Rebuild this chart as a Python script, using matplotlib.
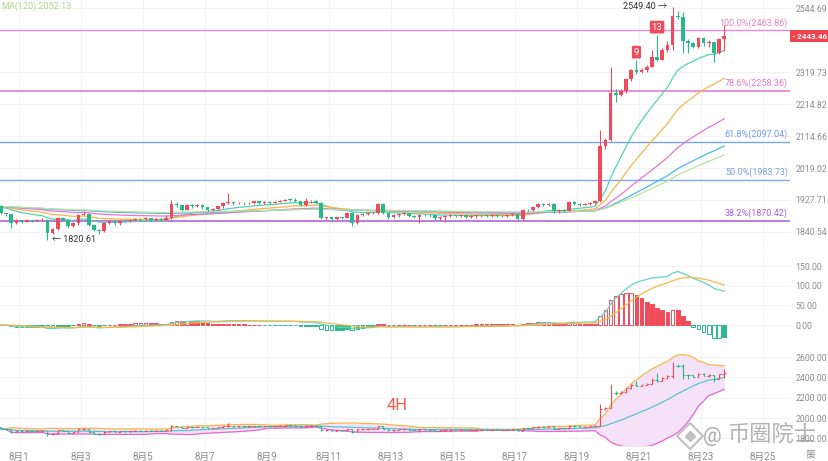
import numpy as np
import pandas as pd
import matplotlib
matplotlib.use("Agg")
import matplotlib.pyplot as plt
from matplotlib.ticker import NullLocator

plt.rcParams['font.family'] = ['Roboto', 'Noto Sans CJK SC', 'DejaVu Sans']

# 4H candles, first one opens Jul 31 08:00, last one Aug 23 16:00
first_open = 1910.0
closes = [
    1892, 1888, 1865, 1872, 1868, 1872,
    1871, 1872, 1874, 1838, 1849, 1878,
    1874, 1856, 1864, 1887, 1890, 1860,
    1847, 1843, 1865, 1869, 1864, 1870,
    1869, 1873, 1876, 1875, 1877, 1874,
    1876, 1874, 1879, 1917, 1913, 1901,
    1913, 1910, 1914, 1907, 1900, 1903,
    1910, 1919, 1921, 1918, 1919, 1918,
    1920, 1924, 1919, 1922, 1920, 1923,
    1926, 1929, 1928, 1926, 1913, 1924,
    1926, 1919, 1878, 1880, 1875, 1880,
    1879, 1892, 1865, 1887, 1889, 1891,
    1892, 1917, 1892, 1880, 1886, 1889,
    1891, 1883, 1882, 1887, 1886, 1885,
    1877, 1881, 1884, 1886, 1884, 1885,
    1881, 1883, 1885, 1885, 1884, 1886,
    1883, 1884, 1885, 1890, 1876, 1901,
    1899, 1908, 1916, 1913, 1917, 1896,
    1901, 1898, 1922, 1917, 1915, 1916,
    1919, 1926, 2084, 2102, 2250, 2245,
    2258, 2295, 2326, 2319, 2328, 2338,
    2370, 2362, 2395, 2412, 2515, 2512,
    2427, 2420, 2406, 2436, 2418, 2424,
    2386, 2432, 2443.46,
]
highs = [
    1915, 1893, 1888, 1875, 1874, 1874,
    1874, 1876, 1877, 1876, 1852, 1882,
    1880, 1876, 1866, 1890, 1897, 1892,
    1862, 1848, 1868, 1872, 1871, 1873,
    1873, 1876, 1879, 1879, 1880, 1879,
    1879, 1878, 1887, 1928, 1922, 1915,
    1916, 1916, 1917, 1916, 1909, 1906,
    1912, 1922, 1948, 1922, 1922, 1921,
    1922, 1926, 1926, 1924, 1923, 1925,
    1928, 1931, 1932, 1934, 1926, 1933,
    1929, 1929, 1922, 1882, 1881, 1882,
    1882, 1895, 1894, 1890, 1892, 1894,
    1895, 1920, 1920, 1893, 1888, 1892,
    1894, 1892, 1885, 1890, 1889, 1888,
    1886, 1883, 1886, 1888, 1887, 1887,
    1886, 1885, 1887, 1887, 1887, 1888,
    1887, 1886, 1887, 1893, 1891, 1904,
    1904, 1911, 1919, 1918, 1919, 1918,
    1903, 1903, 1925, 1924, 1919, 1919,
    1921, 1929, 2133, 2110, 2338, 2262,
    2265, 2300, 2330, 2360, 2333, 2342,
    2395, 2447, 2400, 2425, 2549.40, 2535,
    2530, 2432, 2422, 2440, 2440, 2430,
    2424, 2436, 2483,
]
lows = [
    1888, 1884, 1852, 1862, 1865, 1866,
    1868, 1869, 1870, 1820.61, 1836, 1846,
    1870, 1852, 1854, 1860, 1885, 1856,
    1843, 1836, 1840, 1862, 1860, 1860,
    1866, 1866, 1870, 1871, 1872, 1871,
    1870, 1869, 1872, 1876, 1908, 1897,
    1899, 1906, 1908, 1904, 1897, 1898,
    1901, 1905, 1916, 1914, 1916, 1915,
    1916, 1917, 1916, 1917, 1917, 1918,
    1921, 1924, 1925, 1922, 1910, 1911,
    1919, 1916, 1875, 1874, 1872, 1873,
    1876, 1877, 1856, 1862, 1884, 1886,
    1888, 1890, 1888, 1876, 1877, 1880,
    1886, 1880, 1879, 1864, 1883, 1882,
    1874, 1874, 1868, 1881, 1881, 1882,
    1879, 1879, 1879, 1882, 1882, 1882,
    1880, 1881, 1882, 1883, 1872, 1874,
    1896, 1897, 1905, 1910, 1910, 1893,
    1893, 1895, 1896, 1914, 1912, 1913,
    1914, 1917, 1922, 2075, 2098, 2222,
    2240, 2250, 2290, 2312, 2315, 2320,
    2335, 2358, 2360, 2388, 2395, 2505,
    2383, 2383, 2400, 2402, 2410, 2405,
    2355, 2380, 2390,
]

ema_periods = [15, 30, 60, 99, 120]
ema_colors = ['#52d3b4', '#f8b547', '#ec72d8', '#4db6ec', '#b9e39b']

fib_levels = [2463.86, 2258.36, 2097.04, 1983.73, 1870.42]
fib_names = ['100.0%', '78.6%', '61.8%', '50.0%', '38.2%']
fib_colors = ['#e98cd6', '#e67ed3', '#76a7ee', '#7ea9ee', '#b064e2']
fib_text_colors = ['#e482cc', '#e07acb', '#6f9be8', '#7a9ee8', '#a85edb']

price_ticks = [2544.69, 2319.73, 2214.82, 2114.66, 2019.02, 1927.71, 1840.54]
macd_ticks = [0, 50, 100, 150]
boll_ticks = [1800, 2000, 2200, 2400, 2600]
date_days = list(range(0, 25, 2))
date_labels = ['8月%d' % (d + 1) for d in date_days]

td_marks = [(123, '9'), (127, '13')]
last_price = 2443.46

RED = '#f04b5b'
GREEN = '#27b98b'

c = np.array(closes, dtype=float)
o = np.concatenate([[first_open], c[:-1]])
h = np.maximum(np.array(highs, dtype=float), np.maximum(o, c))
l = np.minimum(np.array(lows, dtype=float), np.minimum(o, c))
n = len(c)
t = (-14 + 4 * np.arange(n)) / 24.0   # days since Aug 1 00:00, candle centres
up = c >= o
col = np.where(up, RED, GREEN)
w = 0.115

s = pd.Series(np.concatenate([[first_open], c]))
emas = [s.ewm(span=p, adjust=False).mean().values[1:] for p in ema_periods]

cs = pd.Series(c)
dif = (cs.ewm(span=12, adjust=False).mean() - cs.ewm(span=26, adjust=False).mean()).values
dea = pd.Series(dif).ewm(span=9, adjust=False).mean().values
hist = 2 * (dif - dea)

mid = cs.rolling(20, min_periods=1).mean().values
sd = cs.rolling(20, min_periods=1).std(ddof=0).values
upper = mid + 2 * sd
lower = mid - 2 * sd

W, H = 829, 461
fig = plt.figure(figsize=(W / 100, H / 100), dpi=100)
aw = 790 / W
ax1 = fig.add_axes([0, 1 - 248 / H, aw, 248 / H])
ax2 = fig.add_axes([0, 1 - 344 / H, aw, 94 / H])
ax3 = fig.add_axes([0, 1 - 446 / H, aw, 102 / H])

for ax in (ax1, ax2, ax3):
    ax.set_xlim(-19 / 31, 771 / 31)
    for sp in ax.spines.values():
        sp.set_visible(False)
    ax.set_xticks(date_days)
    ax.grid(True, color='#f3f3f3', lw=0.7)
    ax.set_axisbelow(True)
    ax.yaxis.tick_right()
    ax.tick_params(axis='y', length=0, pad=4, labelsize=6.3, labelcolor='#8c8c8c')
    ax.tick_params(axis='x', length=0)

# price panel
ax1.set_yscale('log')
ax1.set_ylim(1798.4, 2574.4)
ax1.set_yticks(price_ticks)
ax1.set_yticklabels(['%.2f' % v for v in price_ticks])
ax1.yaxis.set_minor_locator(NullLocator())
ax1.set_xticklabels([])

for lv, nm, fc, tc in zip(fib_levels, fib_names, fib_colors, fib_text_colors):
    ax1.axhline(lv, color=fc, lw=1.2 if nm in ('78.6%', '38.2%') else 1.0, zorder=1)
    ax1.annotate('%s(%.2f)' % (nm, lv), xy=(788 / 790, lv), xycoords=('axes fraction', 'data'),
                 xytext=(0, 2), textcoords='offset points', ha='right', va='bottom',
                 fontsize=6.5, color=tc)

for e, ec in zip(emas, ema_colors):
    ax1.plot(t, e, color=ec, lw=0.9, zorder=2)

ax1.vlines(t, l, h, colors=col, lw=0.8, zorder=3)
body = np.maximum(np.abs(c - o), 1.2)
ax1.bar(t, body, bottom=np.minimum(o, c), width=w, color=col, lw=0, zorder=4)

for idx, lab in td_marks:
    ax1.annotate(lab, xy=(t[idx], h[idx]), xytext=(0, 2.5), textcoords='offset points',
                 ha='center', va='bottom', fontsize=6.8, color='white',
                 bbox=dict(boxstyle='round,pad=0.2,rounding_size=0.15', fc=RED, ec='none'),
                 zorder=6)

ih = int(np.argmax(h))
ax1.annotate('%.2f →' % h[ih], xy=(t[ih], h[ih]), xytext=(-4, 0), textcoords='offset points',
             ha='right', va='center', fontsize=6.5, color='#333333')
il = int(np.argmin(l))
ax1.annotate('← %.2f' % l[il], xy=(t[il], l[il]), xytext=(3, 0), textcoords='offset points',
             ha='left', va='center', fontsize=6.5, color='#333333')

ax1.annotate('- %.2f' % last_price, xy=(1.003, last_price), xycoords=('axes fraction', 'data'),
             ha='left', va='center', fontsize=5.8, color='white', fontweight='bold',
             bbox=dict(boxstyle='square,pad=0.3', fc='#f0434f', ec='none'), annotation_clip=False)

fig.text(1 / W, 1 - 6 / H, 'MA(120):%.2f' % 2052.13, fontsize=6.5, color='#a8d98a',
         ha='left', va='center')

# MACD panel
ax2.set_ylim(-48.3, 190.7)
ax2.set_yticks(macd_ticks)
ax2.set_yticklabels(['%.2f' % v for v in macd_ticks])
ax2.set_xticklabels([])
prev = np.concatenate([[0], hist[:-1]])
hollow = ((hist >= 0) & (hist > prev)) | ((hist < 0) & (hist < prev))
hcol = np.where(hist >= 0, RED, GREEN)
face = np.where(hollow, 'white', hcol)
ax2.bar(t, hist, width=w, color=face, edgecolor=hcol, lw=0.7, zorder=3)
ax2.plot(t, dif, color='#62d6bf', lw=0.9, zorder=4)
ax2.plot(t, dea, color='#f7b84a', lw=0.9, zorder=4)

# Bollinger panel
ax3.set_ylim(1724.6, 2727.9)
ax3.set_yticks(boll_ticks)
ax3.set_yticklabels(['%.2f' % v for v in boll_ticks])
ax3.fill_between(t, lower, upper, color='#f5e2f8', lw=0, zorder=1)
ax3.plot(t, upper, color='#f8b44a', lw=0.9, zorder=2)
ax3.plot(t, lower, color='#e766d4', lw=0.9, zorder=2)
ax3.plot(t, mid, color='#5cc3cf', lw=0.9, zorder=2)
ax3.vlines(t, l, h, colors=col, lw=0.8, zorder=3)
ax3.hlines(o, t - w / 2, t, colors=col, lw=0.8, zorder=3)
ax3.hlines(c, t, t + w / 2, colors=col, lw=0.8, zorder=3)
ax3.set_xticklabels(date_labels)
ax3.tick_params(axis='x', labelsize=7, labelcolor='#8c8c8c', pad=4)
ax3.text(397 / 790, 1 - (405 - 344) / 102, '4H', transform=ax3.transAxes, fontsize=12,
         color='#f05a4f', ha='center', va='center')

fig.text(806 / W, 1 - 455 / H, '策', fontsize=7, color='#8c8c8c', ha='left', va='center')

# watermark
fig.add_artist(plt.Line2D([690 / W], [1 - 436 / H], marker='D', markersize=13, mfc='none',
                          mec='#b5b5b5', mew=1.6, transform=fig.transFigure, alpha=0.8))
fig.add_artist(plt.Line2D([690 / W], [1 - 436 / H], marker='D', markersize=5, mfc='#b5b5b5',
                          mec='#b5b5b5', transform=fig.transFigure, alpha=0.8))
fig.text(712 / W, 1 - 436 / H, '@', fontsize=15, color='#9a9a9a', alpha=0.8,
         ha='center', va='center')
fig.text(727 / W, 1 - 436 / H, '币圈院士', fontsize=16, color='#9a9a9a', alpha=0.75,
         ha='left', va='center')

fig.savefig('out.png', dpi=100, facecolor='white')
